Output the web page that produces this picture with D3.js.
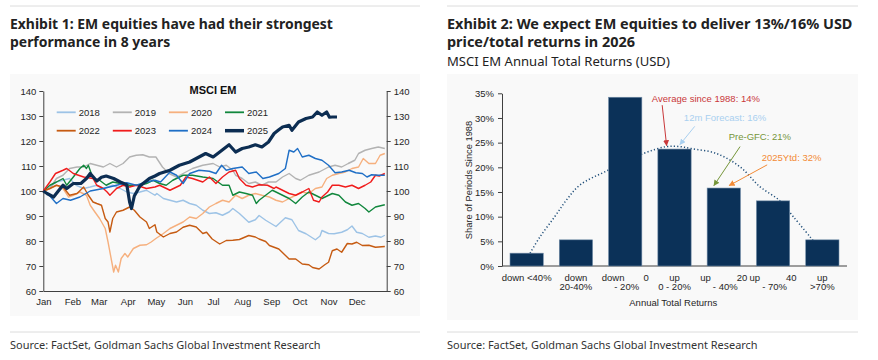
<!DOCTYPE html>
<html><head><meta charset="utf-8">
<script src="https://cdn.jsdelivr.net/npm/d3@7"></script>
<style>
html,body{margin:0;padding:0;background:#fff;}
svg{display:block;}
</style></head>
<body>
<svg id="c" width="878" height="360"></svg>
<script>
// ---------------- DATA ----------------
const monthLabels = ["Jan","Feb","Mar","Apr","May","Jun","Jul","Aug","Sep","Oct","Nov","Dec"];
const monthStartDays = [0,31,59,90,120,151,181,212,243,273,304,334];
const leftTicks = [60,70,80,90,100,110,120,130,140];
const seriesNames = ["2018","2019","2020","2021","2022","2023","2024","2025"];

// [day of year, index level (start = 100)]
const s2018 = [[0,100],[7,101.6],[14,103.6],[21,104.3],[28,105],[35,102.3],[43,101],[50,101.6],[57,102.3],[64,101],[74,102.3],[82,101],[89,99.6],[96,99],[103,99.6],[110,100.3],[119,98.3],[121,99],[128,97],[135,96.3],[142,95.6],[149,96.3],[156,95],[163,94.3],[170,92.3],[177,91],[184,91.3],[191,90.3],[198,91.6],[202,93],[209,91],[219,87.5],[226,88.5],[230,90.2],[237,88.3],[248,85.8],[258,89.3],[265,88.5],[272,84.2],[280,82.9],[290,80.5],[295,82],[297,84.2],[304,83],[310,82.9],[318,83.5],[324,84.5],[329,86],[334,83.5],[340,83],[347,81.5],[354,82],[360,81.5],[364,82.3]];
const s2019 = [[0,100],[7,101],[14,105],[21,106.3],[28,109],[36,109.6],[43,109.6],[50,111],[57,110.3],[64,109.6],[71,111],[78,109.6],[85,111],[92,113.6],[99,114.3],[106,114.5],[113,113.6],[120,113.6],[127,109.6],[134,107],[142,105.6],[149,107],[159,109],[170,110.3],[181,111],[188,109.6],[195,110.3],[202,108.3],[205,106.3],[212,105],[219,103],[226,103.6],[233,102.3],[240,103.6],[248,103.6],[255,105.6],[262,107],[269,105],[274,104.3],[283,106.3],[294,107.6],[304,109.6],[311,110.3],[318,109.6],[325,111],[332,112.3],[336,115],[343,116.3],[350,117],[357,117.6],[364,117]];
const s2020 = [[0,100],[7,101],[14,102.3],[21,101],[27,97.6],[32,98.3],[39,99.6],[46,98.3],[50,94.3],[55,91.6],[60,89],[66,85],[69,79.6],[73,71.6],[75,67.6],[77,70.3],[80,67.6],[83,73],[87,75],[90,73.6],[96,77],[103,78.3],[110,78.5],[115,79.6],[120,81],[128,83],[135,85],[142,86.3],[149,87.6],[156,89.6],[163,89],[170,91],[177,93.6],[184,95],[191,96.3],[198,95.6],[205,98.3],[212,97],[219,98.3],[226,99],[233,98.3],[241,97.6],[248,96.3],[255,95.6],[262,97],[269,98.3],[276,99.6],[283,99],[290,101],[297,101.6],[302,105],[308,106.3],[315,107],[322,107.6],[329,109],[336,109.6],[341,113],[347,111],[354,111],[359,114.3],[364,115]];
const s2021 = [[0,100],[7,102.3],[14,103.6],[21,105],[25,102.3],[32,105.6],[39,109],[43,110.3],[46,109],[48,110.3],[53,105],[60,104.3],[67,102.3],[74,103.6],[82,103],[92,102.3],[103,102.3],[110,103],[117,104.3],[124,103],[131,102.3],[138,104.3],[149,106.3],[159,106.3],[170,105.6],[181,105],[191,102.3],[198,102.3],[202,98.3],[209,99.6],[216,99],[223,98.3],[227,95],[230,96.3],[237,98.3],[244,100.3],[248,99.6],[255,98.3],[262,97],[269,95],[276,97.6],[283,99.6],[290,98.3],[297,97],[308,99],[315,98.3],[322,95.6],[329,94.3],[336,95],[343,93],[347,91.6],[354,93.6],[364,94.5]];
const s2022 = [[0,100],[7,101],[14,102.3],[21,101.6],[28,98.3],[36,99],[43,101.6],[48,98.3],[53,95.6],[57,95],[62,94.3],[66,89],[69,87.6],[71,83.6],[74,89],[78,91.6],[85,92.3],[92,93.6],[97,92.3],[103,89.6],[110,87.6],[113,85],[119,86.5],[121,83.6],[128,81.6],[135,83],[142,83.6],[149,85.5],[156,86.3],[163,85.6],[170,83],[174,83.5],[180,80.8],[188,78.8],[195,80.2],[202,80.3],[209,80.6],[219,82.2],[226,81.6],[230,80.8],[237,79.8],[241,78.2],[251,76.8],[262,72.8],[269,72.8],[276,70.8],[283,70.5],[287,69.4],[294,68.8],[300,70.5],[304,71.5],[308,76.1],[313,76.8],[318,75.5],[324,79],[329,78.8],[334,79.5],[340,78.2],[347,78.3],[354,77.5],[364,77.8]];
const s2023 = [[0,100],[7,103.6],[13,107],[21,108.3],[25,109],[32,107],[43,105.6],[53,105],[57,102.3],[64,101],[68,99.6],[71,98.3],[78,101],[85,102.3],[92,101.6],[99,102.3],[110,101],[119,101.6],[124,102.3],[135,100.3],[146,102.3],[152,105.6],[159,105],[170,103.6],[177,105.6],[184,103],[191,105.6],[198,107.6],[205,108.3],[209,105],[216,102.3],[223,101.6],[230,102.5],[239,102.3],[246,101],[248,101.6],[255,100.3],[262,99],[269,98.3],[276,99.6],[283,101],[288,96.3],[294,95.6],[297,97.6],[303,99.6],[308,102.3],[315,102.3],[322,101.6],[329,102.3],[336,101],[343,102.3],[349,103.6],[354,106.3],[358,106],[364,107]];
const s2024 = [[0,100],[7,98],[14,95],[21,97],[29,96.3],[39,97.6],[50,100],[64,101],[78,102.3],[89,103.3],[99,102.3],[110,103.6],[119,104.3],[125,103.6],[135,107.6],[142,106.3],[149,103],[156,107],[166,108.3],[177,107.9],[184,107],[190,110.3],[195,108.3],[202,109],[212,109.6],[219,107],[227,107.6],[234,105],[241,105.6],[251,107],[258,109],[262,116.3],[267,115.6],[271,117],[276,113.6],[283,114.3],[290,113],[297,112.3],[304,110.3],[311,107.3],[318,107.6],[326,108.3],[333,107.3],[340,107],[345,105.6],[350,106.5],[357,106.3],[364,106.3]];
const s2025 = [[0,100],[4,99],[11,97.6],[16,100],[21,102.3],[25,101],[32,103],[40,103],[46,105],[50,107],[57,104],[62,105.5],[67,106],[75,105],[82,103.6],[89,102.5],[92,95.6],[94,93],[97,98],[103,102],[113,105],[119,106],[124,107],[135,108.3],[145,110.3],[156,111.6],[166,113.6],[173,115],[181,113.6],[188,115.6],[198,118.5],[205,115.6],[212,117],[219,117.6],[226,118.5],[233,117.6],[240,119.6],[246,123],[251,124.5],[255,125.6],[262,126.3],[265,124.3],[272,127.6],[280,129],[287,129.6],[292,131.6],[297,130.3],[302,131.6],[305,129.5],[308,129.6],[313,129.6]];
const seriesData = [s2018,s2019,s2020,s2021,s2022,s2023,s2024,s2025];

// Exhibit 2
const categories = ["down <40%","down 20-40%","down 0 - 20%","up 0 - 20%","up 20 - 40%","up 40 - 70%","up >70%"];
const shares = [2.6, 5.3, 34.2, 23.7, 15.8, 13.2, 5.3];
const rightTicks = [0,5,10,15,20,25,30,35];
const tickLine1 = [["down <40%"],["down"],["down","0"],["up"],["up","20"],["up","40"],["up"]];
const tickLine2 = ["","20-40%","- 20%","0 - 20%","- 40%","- 70%",">70%"];
// trend curve: position in bar steps from first bar centre, share %
const trendPos = [0.07,0.27,0.57,0.81,1.08,1.65,2.37,2.84,3.11,3.34,3.85,4.33,4.73,5.14,5.41,5.81];
const trendVal = [2.6,5.9,10,13.4,16.4,19.4,22.8,24.2,24.2,23.8,22.8,20.1,16.1,13.2,10,5.2];
const annotLabels = ["Average since 1988: 14%","12m Forecast: 16%","Pre-GFC: 21%","2025Ytd: 32%"];

// ---------------- STYLE ----------------
const seriesColors = ["#9dc3e6","#b3b3b3","#f6b07e","#11873d","#c65b12","#f01c1c","#1f6fc6","#0c2d52"];
const seriesWidths = [1.4,1.4,1.4,1.4,1.4,1.4,1.4,3.2];
const annotColors = ["#c9383a","#a9d0f0","#76963a","#f38b36"];
const AX = "Liberation Sans, Arial, sans-serif";
const TF = "Noto Sans, Open Sans, sans-serif";
const txt = "#262626";

const svg = d3.select("#c");

// panels
svg.append("rect").attr("x",10).attr("y",74).attr("width",410).attr("height",242).attr("fill","#f9f9f9");
svg.append("rect").attr("x",447).attr("y",74).attr("width",411).attr("height",246).attr("fill","#f9f9f9");

// separators
[[10,420],[447,858]].forEach(([a,b])=>{
  svg.append("line").attr("x1",a).attr("x2",b).attr("y1",6).attr("y2",6).attr("stroke","#dcdcdc");
  svg.append("line").attr("x1",a).attr("x2",b).attr("y1",332).attr("y2",332).attr("stroke","#dcdcdc");
});

function fit(sel, target){
  const w = sel.node().getComputedTextLength();
  const fs = parseFloat(sel.attr("font-size")) * target / w;
  sel.attr("font-size", fs);
  return fs;
}
function T(x,y,s,o){
  o = o||{};
  return svg.append("text").attr("x",x).attr("y",y).attr("dy","0.35em")
    .attr("font-family",o.f||TF).attr("font-size",o.fs||14).attr("font-weight",o.w||"normal")
    .attr("fill",o.c||txt).attr("text-anchor",o.a||"start").text(s);
}
// titles
let t1 = T(10,24,"Exhibit 1: EM equities have had their strongest",{w:"bold",fs:15,c:"#222"});
let f1 = fit(t1,323);
T(10,42.3,"performance in 8 years",{w:"bold",fs:f1,c:"#222"});
let t2 = T(447,24,"Exhibit 2: We expect EM equities to deliver 13%/16% USD",{w:"bold",fs:15,c:"#222"});
let f2 = fit(t2,406);
T(447,42.3,"price/total returns in 2026",{w:"bold",fs:f2,c:"#222"});
let st = T(447,61,"MSCI EM Annual Total Returns (USD)",{fs:13,c:"#222"});
fit(st,223);
let s1 = T(10,345,"Source: FactSet, Goldman Sachs Global Investment Research",{fs:12,c:"#333"});
let sf = fit(s1,311);
T(447,345,"Source: FactSet, Goldman Sachs Global Investment Research",{fs:sf,c:"#333"});

// ---------------- EXHIBIT 1 ----------------
const xL = d3.scaleLinear().domain([0,366]).range([43.3,386.7]);
const yL = d3.scaleLinear().domain([60,140]).range([291,91]);

function styleAxis(g){
  g.selectAll("path").attr("stroke","#404040").attr("stroke-width",1);
  g.selectAll("line").attr("stroke","#404040");
  g.selectAll("text").attr("font-family",AX).attr("font-size",9.5).attr("fill",txt);
}
svg.append("g").attr("transform",`translate(${xL.range()[0]},0)`)
  .call(d3.axisLeft(yL).tickValues(leftTicks).tickSize(4).tickPadding(3).tickSizeOuter(0)).call(styleAxis);
svg.append("g").attr("transform",`translate(${xL.range()[1]},0)`)
  .call(d3.axisRight(yL).tickValues(leftTicks).tickSize(4).tickPadding(3).tickSizeOuter(0)).call(styleAxis);
svg.append("g").attr("transform",`translate(0,${yL.range()[0]})`)
  .call(d3.axisBottom(xL).tickValues(monthStartDays).tickFormat((d,i)=>monthLabels[i]).tickSize(0).tickPadding(7).tickSizeOuter(0)).call(styleAxis);

const lineL = d3.line().x(d=>xL(d[0])).y(d=>yL(d[1]));
seriesData.forEach((s,i)=>{
  svg.append("path").datum(s).attr("d",lineL).attr("fill","none")
    .attr("stroke",seriesColors[i]).attr("stroke-width",seriesWidths[i]).attr("stroke-linejoin","round");
});

// chart title
T(213,90,"MSCI EM",{f:AX,fs:11,w:"bold",c:"#111",a:"middle"});
// legend
seriesNames.forEach((n,i)=>{
  const col = i%4, row = Math.floor(i/4);
  const x0 = 56.7 + col*56.1, y0 = 112.3 + row*18.4;
  svg.append("line").attr("x1",x0).attr("x2",x0+19).attr("y1",y0).attr("y2",y0)
    .attr("stroke",seriesColors[i]).attr("stroke-width",seriesWidths[i]===3.2?3.5:1.8);
  T(x0+22,y0,n,{f:AX,fs:9.5,c:txt});
});

// ---------------- EXHIBIT 2 ----------------
const xR = d3.scaleBand().domain(categories).range([502,847]).paddingInner(0.325).paddingOuter(0.1625);
const yR = d3.scaleLinear().domain([0,35]).range([266,93.3]);

svg.append("g").attr("transform",`translate(${xR.range()[0]},0)`)
  .call(d3.axisLeft(yR).tickValues(rightTicks).tickFormat(d=>d+"%").tickSize(4).tickPadding(4).tickSizeOuter(0)).call(styleAxis);
svg.append("line").attr("x1",502).attr("x2",847).attr("y1",yR(0)).attr("y2",yR(0)).attr("stroke","#404040");

// trend curve (behind bars)
const c0 = xR(categories[0]) + xR.bandwidth()/2;
const trend = trendPos.map((p,i)=>[c0 + p*xR.step(), yR(trendVal[i])]);
svg.append("path").datum(trend).attr("d",d3.line().curve(d3.curveCatmullRom))
  .attr("fill","none").attr("stroke","#1f4e79").attr("stroke-width",1.5).attr("stroke-dasharray","1.2,2.2");

svg.selectAll("rect.bar").data(shares).enter().append("rect").attr("class","bar")
  .attr("x",(d,i)=>xR(categories[i])).attr("width",xR.bandwidth())
  .attr("y",d=>yR(d)).attr("height",d=>yR(0)-yR(d))
  .attr("fill","#0b3158").attr("stroke","#6f8aa6").attr("stroke-width",0.6);

// category labels
categories.forEach((c,i)=>{
  const cx = xR(c) + xR.bandwidth()/2;
  const l1 = tickLine1[i];
  if (l1.length===1) T(cx,277.3,l1[0],{f:AX,fs:9.5,a:"middle"});
  else { T(cx-23.5,277.3,l1[0],{f:AX,fs:9.5,a:"start"}); T(cx+23.5,277.3,l1[1],{f:AX,fs:9.5,a:"end"}); }
  if (tickLine2[i]) T(cx+(l1.length>1?1.5:0),286.7,tickLine2[i],{f:AX,fs:9.5,a:"middle"});
});
T(673.3,302.7,"Annual Total Returns",{f:AX,fs:9.5,a:"middle"});
svg.append("text").attr("transform","translate(468.3,180) rotate(-90)").attr("dy","0.35em")
  .attr("text-anchor","middle").attr("font-family",AX).attr("font-size",9.3).attr("fill",txt)
  .text("Share of Periods Since 1988");

// annotations (positions in bar steps from first bar centre / share %)
const annotPos = [
  {tx:2.54,ty:33.9,ax1:2.75,ay1:32.6,ax2:2.84,ay2:24.4},
  {tx:3.19,ty:30.0,ax1:3.41,ay1:28.3,ax2:3.11,ay2:24.6},
  {tx:4.10,ty:26.2,ax1:4.33,ay1:24.2,ax2:3.80,ay2:16.3},
  {tx:4.77,ty:22.0,ax1:4.88,ay1:20.5,ax2:4.11,ay2:16.3}
];
const defs = svg.append("defs");
annotLabels.forEach((lab,i)=>{
  const p = annotPos[i], col = annotColors[i];
  defs.append("marker").attr("id","m"+i).attr("viewBox","0 0 10 10").attr("refX",9).attr("refY",5)
    .attr("markerWidth",6).attr("markerHeight",6).attr("markerUnits","userSpaceOnUse").attr("orient","auto")
    .append("path").attr("d","M0,0L10,5L0,10z").attr("fill",col);
  const X = v=>c0 + v*xR.step();
  svg.append("line").attr("x1",X(p.ax1)).attr("y1",yR(p.ay1)).attr("x2",X(p.ax2)).attr("y2",yR(p.ay2))
    .attr("stroke",col).attr("stroke-width",1).attr("marker-end",`url(#m${i})`);
  T(X(p.tx),yR(p.ty),lab,{f:AX,fs:9.5,c:col});
});
</script>
</body></html>
